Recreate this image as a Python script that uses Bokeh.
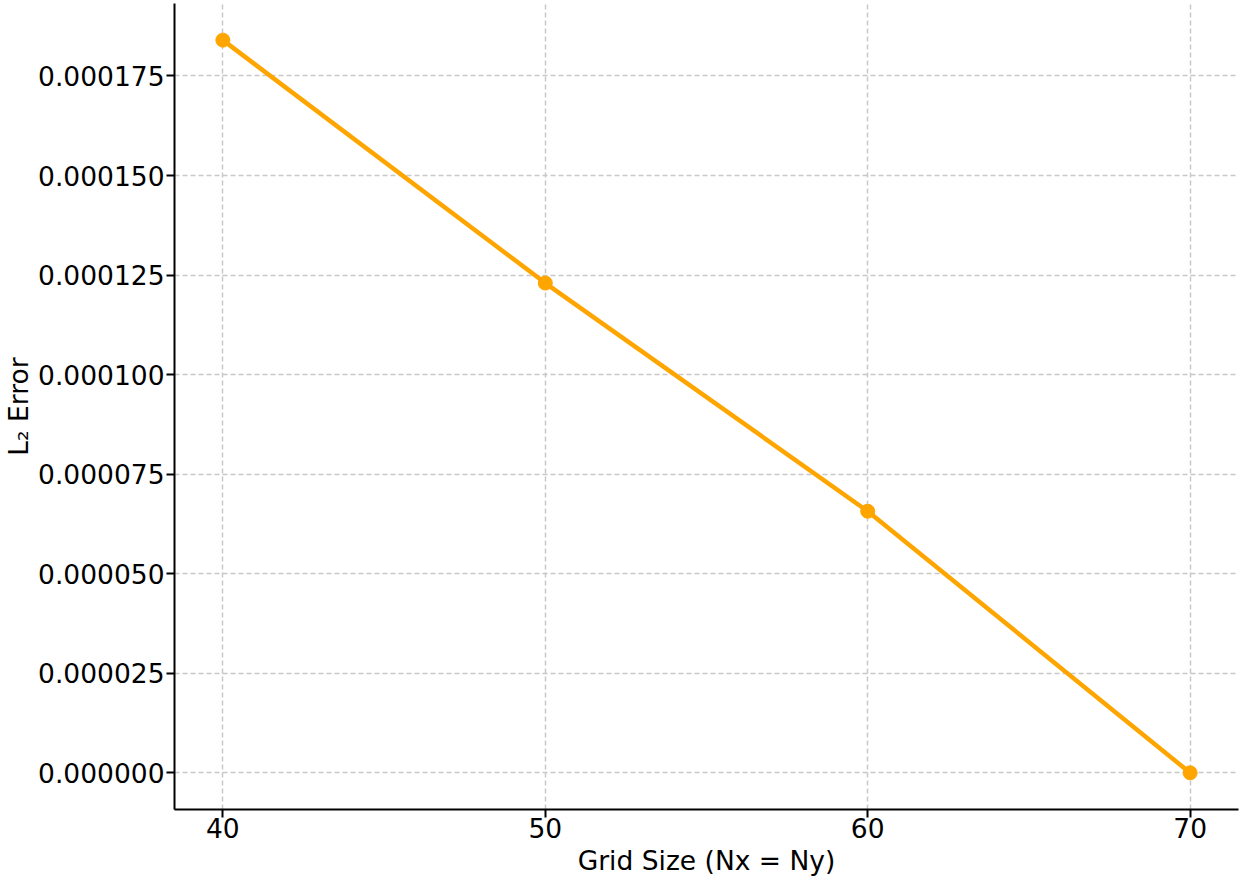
from bokeh.plotting import figure
from bokeh.models import Range1d, FixedTicker, PrintfTickFormatter
from bokeh.embed import file_html
from bokeh.resources import INLINE

grid_sizes = [40, 50, 60, 70]
l2_errors = [0.0001840, 0.0001230, 0.0000657, 0.0]
x_ticks = [40, 50, 60, 70]
y_ticks = [0.0, 0.000025, 0.00005, 0.000075, 0.0001, 0.000125, 0.00015, 0.000175]

color = "#FFA500"
font = "DejaVu Sans"
fs = "26.5px"

p = figure(width=1232, height=876, output_backend="svg", toolbar_location=None,
           x_range=Range1d(38.5, 71.5), y_range=Range1d(-0.0000092, 0.0001932),
           min_border_left=160, min_border_right=1, min_border_top=3, min_border_bottom=67)
p.frame_width = 1064
p.frame_height = 806
p.outline_line_color = None
p.background_fill_color = "white"

p.line(grid_sizes, l2_errors, line_color=color, line_width=4.5)
p.scatter(grid_sizes, l2_errors, size=14, fill_color=color, line_color=color)

for ax in (p.xaxis[0], p.yaxis[0]):
    ax.axis_line_width = 2
    ax.axis_line_color = "black"
    ax.major_tick_line_width = 2
    ax.major_tick_line_color = "black"
    ax.major_tick_out = 8
    ax.major_tick_in = 0
    ax.minor_tick_line_color = None
    ax.major_label_text_font = font
    ax.major_label_text_font_size = fs
    ax.major_label_text_color = "black"
    ax.axis_label_text_font = font
    ax.axis_label_text_font_size = fs
    ax.axis_label_text_font_style = "normal"
    ax.axis_label_text_color = "black"

p.yaxis[0].major_label_standoff = 2
p.yaxis[0].axis_label_standoff = 1
p.xaxis[0].major_label_standoff = 0
p.xaxis[0].axis_label_standoff = 4

p.xaxis[0].ticker = FixedTicker(ticks=x_ticks)
p.yaxis[0].ticker = FixedTicker(ticks=y_ticks)
p.yaxis[0].formatter = PrintfTickFormatter(format="%.6f")
p.xaxis[0].axis_label = "Grid Size (Nx = Ny)"
p.yaxis[0].axis_label = "L\u2082 Error"

for g in (p.xgrid[0], p.ygrid[0]):
    g.grid_line_color = "#c8c8c8"
    g.grid_line_width = 1.5
    g.grid_line_dash = "5 3"

open("out.html", "w").write(file_html(p, INLINE))
